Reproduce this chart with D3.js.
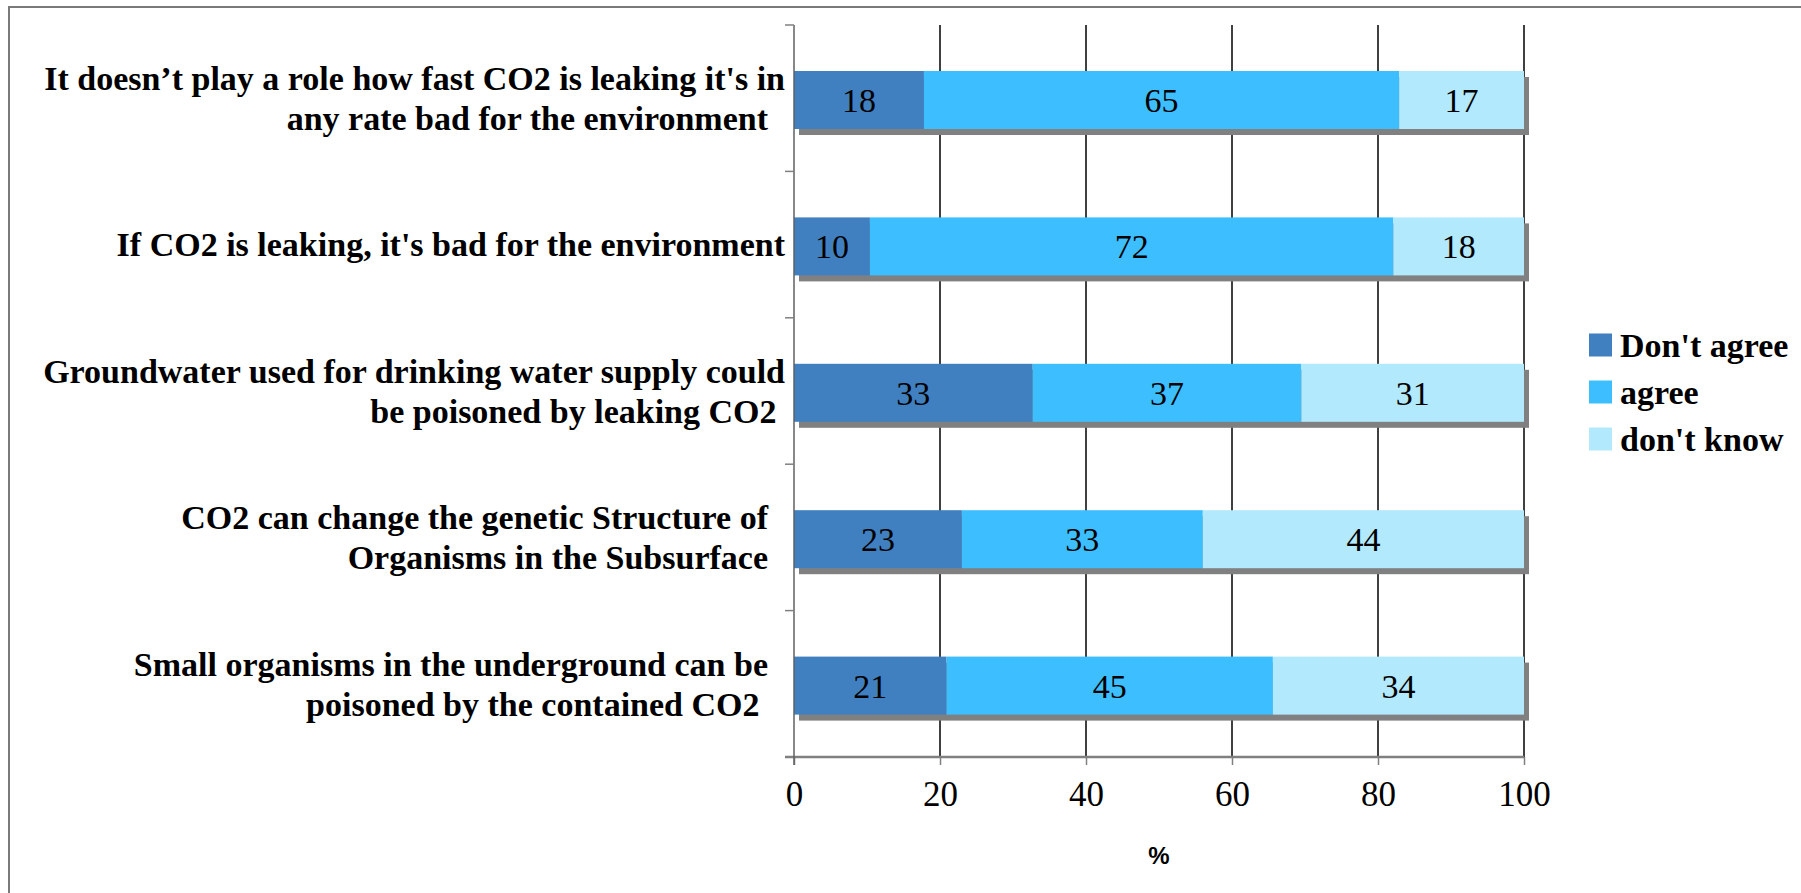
<!DOCTYPE html>
<html><head><meta charset="utf-8">
<script src="https://cdn.jsdelivr.net/npm/d3@7"></script>
<style>
html,body{margin:0;padding:0;background:#fff;overflow:hidden}
text{white-space:pre}
</style></head>
<body><svg id="c" width="1801" height="893"></svg>
<script>
const categories = [
  ["It doesn\u2019t play a role how fast CO2 is leaking it's in", "any rate bad for the environment  "],
  ["If CO2 is leaking, it's bad for the environment"],
  ["Groundwater used for drinking water supply could", "be poisoned by leaking CO2 "],
  ["CO2 can change the genetic Structure of  ", "Organisms in the Subsurface  "],
  ["Small organisms in the underground can be  ", "poisoned by the contained CO2   "]
];
const seriesNames = ["Don't agree", "agree", "don't know"];
const dontAgree = [17.8, 10.4, 32.7, 23.0, 20.9];
const agree     = [65.1, 71.7, 36.8, 33.0, 44.7];
const dontKnow  = [17.1, 17.9, 30.5, 44.0, 34.4];
const xTicks = [0, 20, 40, 60, 80, 100];
const colors = ["#4080c0", "#3dbfff", "#b3e9fd"];

(function(){
const svg = d3.select("#c");
const serif = "Liberation Serif, Times New Roman, serif";
svg.append("rect").attr("x",9).attr("y",7).attr("width",2000).attr("height",1000)
  .attr("fill","none").attr("stroke","#7a7a7a").attr("stroke-width",2);

const pL = 794, pR = 1524, pT = 25, pB = 757;
const x = d3.scaleLinear().domain([0,100]).range([pL,pR]);
const y = d3.scaleBand().domain(d3.range(categories.length)).range([pT,pB]);
const barH = 58, barOff = 46, sh = 5;

svg.append("g").selectAll("line").data(xTicks.slice(1)).join("line")
  .attr("x1",d=>x(d)).attr("x2",d=>x(d)).attr("y1",pT).attr("y2",pB)
  .attr("stroke","#000").attr("stroke-width",1.5);

const series = [dontAgree, agree, dontKnow];
const stacked = categories.map((c,i)=>{
  let acc = 0;
  return series.map((s,k)=>{ const r = {i,k,x0:acc,x1:acc+s[i],v:s[i]}; acc += s[i]; return r; });
});

svg.append("g").selectAll("rect").data(stacked).join("rect")
  .attr("x",d=>x(0)+sh).attr("y",(d,i)=>y(i)+barOff+sh+1)
  .attr("width",d=>x(d[d.length-1].x1)-x(0)).attr("height",barH)
  .attr("fill","#808080");

const segs = stacked.flat();
svg.append("g").selectAll("rect").data(segs).join("rect")
  .attr("x",d=>x(d.x0)).attr("y",d=>y(d.i)+barOff)
  .attr("width",d=>x(d.x1)-x(d.x0)).attr("height",barH)
  .attr("fill",d=>colors[d.k]);

svg.append("g").selectAll("text").data(segs).join("text")
  .attr("x",d=>x((d.x0+d.x1)/2)).attr("y",d=>y(d.i)+barOff+barH/2)
  .attr("dy","0.35em").attr("text-anchor","middle")
  .attr("font-family",serif).attr("font-size",34)
  .attr("fill","#000").text(d=>Math.round(d.v));

const xAxis = svg.append("g").attr("transform",`translate(0,${pB})`)
  .call(d3.axisBottom(x).tickValues(xTicks).tickSize(8).tickPadding(16));
xAxis.select(".domain").remove();
xAxis.selectAll(".tick line").attr("stroke","#808080").attr("stroke-width",1.5);
xAxis.selectAll("text").attr("font-family",serif).attr("font-size",35).attr("fill","#000");
svg.append("line").attr("x1",pL-9).attr("x2",pR).attr("y1",pB).attr("y2",pB)
  .attr("stroke","#808080").attr("stroke-width",2.5);
svg.append("line").attr("x1",pL).attr("x2",pL).attr("y1",pT).attr("y2",pB+8)
  .attr("stroke","#606060").attr("stroke-width",1.5);
svg.append("g").selectAll("line").data(d3.range(categories.length)).join("line")
  .attr("x1",pL-9).attr("x2",pL).attr("y1",d=>y(d)).attr("y2",d=>y(d))
  .attr("stroke","#808080").attr("stroke-width",1.5);

const lab = svg.append("g").selectAll("text").data(categories).join("text")
  .attr("text-anchor","end")
  .attr("font-family",serif).attr("font-size",34).attr("font-weight","bold")
  .attr("fill","#000");
lab.each(function(lines,i){
  const t = d3.select(this);
  const cy = y(i)+barOff+barH/2 - 2;
  const lh = 40;
  lines.forEach((ln,j)=>{
    t.append("tspan").attr("x",pL-9)
      .attr("y",cy + (j-(lines.length-1)/2)*lh).attr("dy","0.35em").text(ln);
  });
});

svg.append("text").attr("x",(pL+pR)/2).attr("y",856).attr("dy","0.35em").attr("text-anchor","middle")
  .attr("font-family","Liberation Sans, Arial, sans-serif").attr("font-weight","bold").attr("font-size",24)
  .text("%");

const lg = svg.append("g").selectAll("g").data(seriesNames).join("g")
  .attr("transform",(d,i)=>`translate(1589,${345+i*47})`);
lg.append("rect").attr("x",0).attr("y",-11.5).attr("width",23).attr("height",23).attr("fill",(d,i)=>colors[i]);
lg.append("text").attr("x",31).attr("dy","0.35em")
  .attr("font-family",serif).attr("font-size",34).attr("font-weight","bold")
  .text(d=>d);
})();
</script></body></html>
